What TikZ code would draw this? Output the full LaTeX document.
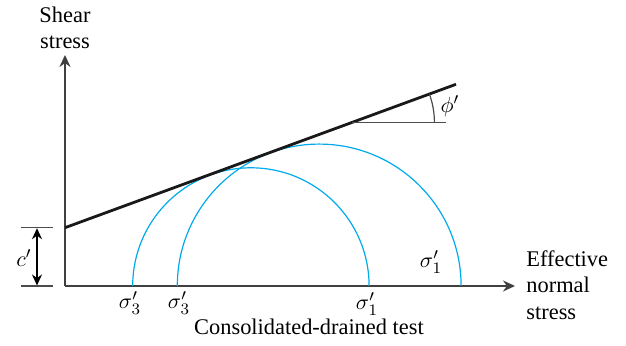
\documentclass[tikz,border=0pt]{standalone}
\usepackage{amsmath}
\usepackage{fontspec}
\setmainfont{Liberation Serif}
\newfontfamily\labelfont{Liberation Serif}
\usepackage{xcolor}
\usetikzlibrary{arrows.meta,positioning}
\definecolor{mohrblue}{RGB}{0,170,235}

\begin{document}
\begin{tikzpicture}[
  x=0.5pt, y=0.5pt,
  every node/.style={font=\labelfont\fontsize{11.2}{13.3}\selectfont, inner sep=0pt},
  axisline/.style={draw=black!75, line width=0.9pt, -{Stealth[length=6pt,width=5.5pt]}},
  envline/.style={draw=black!90, line width=1.4pt},
  mohr/.style={draw=mohrblue, line width=0.6pt},
  thinline/.style={draw=black!70, line width=0.6pt},
  dimarr/.style={draw=black, line width=0.9pt, {Stealth[length=5.5pt,width=5pt]}-{Stealth[length=5.5pt,width=5pt]}},
]
\useasboundingbox (-65,-60) rectangle (561,286);

% Origin and axes
\coordinate (O) at (0,0);
\coordinate (ytop) at (0,231);
\coordinate (xend) at (450,0);
\draw[axisline] (O) -- (ytop);
\draw[axisline] (O) -- (xend);

% Mohr circles
\draw[mohr] (304.1,0) arc[start angle=0, end angle=180, radius=59.1pt];
\draw[mohr] (396.1,0) arc[start angle=0, end angle=180, radius=70.95pt];

% Failure envelope
\coordinate (envA) at (0,58.3);
\coordinate (envB) at (391,201.7);
\draw[envline] (envA) -- (envB);

% Angle phi'
\coordinate (phiA) at (287.4,163.7);
\coordinate (phiB) at (380.7,163.7);
\draw[thinline] (phiA) -- (phiB);
\draw[thinline] ([xshift=41pt]phiA) arc[start angle=0, end angle=20.14, radius=41pt];
\node (phi) at (385,180) {$\phi'$};

% Cohesion c'
\coordinate (cb1) at (-44,0);
\coordinate (cb2) at (-12,0);
\coordinate (ct1) at (-44,58.3);
\coordinate (ct2) at (-12,58.3);
\draw[thinline] (cb1) -- (cb2);
\draw[thinline] (ct1) -- (ct2);
\draw[dimarr] (-28,0.5) -- (-28,57.8);
\node (coh) at (-41,28) {$c'$};

% Labels
\node (s3a) at (65,-17) {$\sigma_3'$};
\node (s3b) at (114,-17) {$\sigma_3'$};
\node (s1a) at (302,-18) {$\sigma_1'$};
\node (s1b) at (366,24) {$\sigma_1'$};
\node (test) at (244,-41) {Consolidated-drained test};
\node[anchor=west, align=left] (xlab) at (461,1) {Effective\\normal\\stress};
\node[align=center] (ylab) at (0,258) {Shear\\stress};

\end{tikzpicture}
\end{document}
